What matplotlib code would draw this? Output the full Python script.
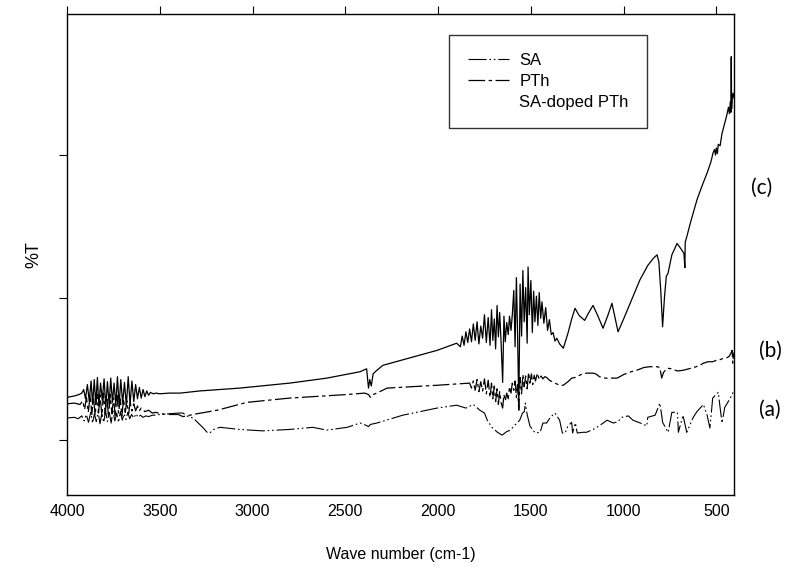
import matplotlib
matplotlib.use("Agg")
import matplotlib.pyplot as plt
from matplotlib.lines import Line2D

plt.rcParams['font.family'] = ['Liberation Sans', 'DejaVu Sans']
plt.rcParams['lines.scale_dashes'] = False

# SA-doped PTh (c), wavenumber (cm-1) and %T
doped_wn = [4000, 3960, 3935, 3920, 3910, 3900, 3890, 3880, 3870, 3862, 3853, 3845, 3836, 3828,
            3819, 3810, 3800, 3791, 3782, 3773, 3764, 3755, 3746, 3737, 3728, 3719, 3710, 3700,
            3690, 3680, 3670, 3660, 3650, 3640, 3630, 3620, 3610, 3600, 3590, 3580, 3570, 3560,
            3550, 3535, 3520, 3500, 3450, 3390, 3285, 3070, 2800, 2600, 2420, 2395, 2385, 2375,
            2368, 2360, 2350, 2330, 2297, 2200, 2005, 1900, 1880, 1870, 1860, 1850, 1840, 1830,
            1820, 1810, 1800, 1790, 1780, 1770, 1760, 1750, 1740, 1730, 1720, 1712, 1705, 1697,
            1690, 1682, 1675, 1668, 1660, 1652, 1645, 1638, 1630, 1622, 1615, 1607, 1600, 1592,
            1585, 1578, 1572, 1565, 1558, 1550, 1543, 1536, 1528, 1520, 1515, 1508, 1500, 1492,
            1485, 1478, 1470, 1462, 1455, 1447, 1440, 1430, 1420, 1410, 1400, 1390, 1380, 1370,
            1360, 1345, 1325, 1300, 1280, 1262, 1240, 1210, 1190, 1165, 1140, 1111, 1085, 1063,
            1045, 1030, 1000, 960, 912, 870, 840, 820, 810, 800, 790, 780, 770, 761, 740, 712,
            690, 675, 670, 668, 660, 640, 605, 580, 550, 530, 518, 510, 505, 500, 495, 490, 480,
            470, 455, 445, 435, 430, 425, 422, 420, 418, 415, 410, 405]
doped_t = [26.0, 26.2, 26.4, 26.6, 27.1, 25.8, 27.8, 25.5, 28.3, 25.0, 28.5, 25.0, 28.8, 24.8,
           28.0, 25.6, 28.6, 24.7, 28.2, 25.0, 28.7, 25.3, 28.0, 24.9, 28.9, 24.8, 28.5, 25.2,
           28.1, 24.8, 28.9, 25.0, 28.3, 25.4, 27.8, 25.8, 27.4, 25.9, 27.1, 26.1, 26.9, 26.3,
           26.7, 26.5, 26.6, 26.5, 26.6, 26.6, 26.9, 27.3, 28.0, 28.7, 29.6, 29.9, 30.0, 27.3,
           28.5, 27.6, 29.3, 29.8, 30.5, 31.2, 32.6, 33.6, 33.1, 34.6, 33.3, 35.2, 33.7, 35.6,
           33.8, 36.3, 34.0, 36.6, 33.5, 36.0, 34.3, 37.6, 33.7, 37.2, 33.3, 38.3, 34.0, 37.0,
           32.8, 38.9, 34.5, 37.9, 33.5, 28.1, 37.4, 33.8, 36.5, 34.8, 37.4, 35.4, 37.6, 41.0,
           33.1, 42.8, 35.6, 24.6, 41.9, 34.6, 43.8, 36.6, 41.4, 33.6, 44.3, 37.6, 42.4, 35.1,
           40.9, 36.6, 40.2, 36.1, 40.7, 37.1, 39.4, 36.4, 38.6, 35.4, 36.9, 34.8, 35.1, 33.9,
           34.3, 33.5, 32.9, 35.0, 37.0, 38.5, 37.5, 36.8, 37.8, 38.9, 37.5, 35.7, 37.5, 39.2,
           37.0, 35.2, 37.0, 39.5, 42.5, 44.5, 45.5, 46.0, 45.0, 41.0, 35.9, 40.0, 43.0, 43.4,
           46.0, 47.6, 46.8, 46.2, 44.2, 47.8, 48.5, 50.5, 53.7, 55.5, 57.5, 59.0, 60.3, 60.8,
           60.0, 61.0, 60.2, 61.5, 61.3, 63.0, 64.5, 65.5, 66.7, 65.8, 67.5, 66.0, 73.8, 66.5,
           68.1, 68.7, 68.0]

# PTh (b)
pth_wn = [4000, 3960, 3930, 3915, 3905, 3895, 3885, 3875, 3866, 3857, 3848, 3839, 3830, 3821,
          3812, 3803, 3794, 3785, 3776, 3767, 3758, 3749, 3740, 3731, 3722, 3713, 3704, 3695,
          3686, 3677, 3668, 3659, 3650, 3640, 3630, 3620, 3610, 3600, 3580, 3560, 3540, 3520,
          3500, 3450, 3400, 3375, 3300, 3190, 3030, 2800, 2490, 2395, 2375, 2365, 2350, 2330,
          2275, 2005, 1830, 1820, 1810, 1800, 1790, 1780, 1770, 1760, 1750, 1740, 1730, 1720,
          1712, 1705, 1697, 1690, 1682, 1675, 1668, 1660, 1652, 1645, 1638, 1630, 1622, 1615,
          1607, 1600, 1592, 1585, 1578, 1572, 1565, 1558, 1550, 1543, 1536, 1528, 1520, 1512,
          1505, 1497, 1490, 1482, 1475, 1465, 1455, 1445, 1435, 1425, 1415, 1400, 1370, 1345,
          1325, 1300, 1280, 1260, 1230, 1200, 1165, 1150, 1130, 1100, 1060, 1035, 1000, 960,
          930, 890, 860, 820, 805, 795, 785, 765, 740, 710, 680, 650, 620, 590, 570, 545, 520,
          500, 490, 470, 455, 440, 430, 420, 415, 412, 408, 405]
pth_t = [25.1, 25.2, 25.0, 25.5, 24.3, 26.0, 23.9, 26.3, 23.6, 26.0, 23.5, 26.5, 23.8, 26.3,
         23.3, 26.6, 23.6, 26.1, 23.2, 26.4, 23.7, 25.9, 23.5, 26.3, 23.8, 25.8, 23.4, 25.8,
         23.9, 25.5, 23.7, 25.3, 24.1, 25.1, 24.1, 24.8, 24.1, 24.5, 24.0, 24.2, 23.8, 23.9,
         23.7, 23.6, 23.6, 23.3, 23.7, 24.2, 25.3, 25.9, 26.4, 26.6, 26.4, 26.0, 26.4, 26.6,
         27.3, 27.7, 28.0, 27.3, 28.3, 27.0, 28.5, 26.8, 28.2, 26.9, 28.6, 26.5, 28.4, 26.0,
         28.0, 25.8, 27.6, 25.4, 27.2, 25.0, 26.8, 25.2, 24.5, 26.4, 25.5, 26.6, 25.8, 27.5,
         26.6, 28.0, 27.0, 28.3, 26.0, 27.8, 24.2, 28.8, 26.5, 29.2, 27.5, 29.0, 27.2, 29.5,
         28.0, 29.3, 27.8, 29.1, 28.3, 29.4, 28.5, 29.0, 28.6, 28.9, 28.8, 28.4, 28.0, 27.7,
         27.7, 28.2, 28.7, 28.8, 29.2, 29.4, 29.4, 29.3, 28.9, 28.7, 28.7, 28.7, 29.2, 29.6,
         29.8, 30.2, 30.3, 30.3, 30.2, 28.7, 29.5, 30.1, 30.0, 29.7, 29.8, 30.0, 30.2, 30.5,
         30.8, 31.0, 31.0, 31.2, 31.2, 31.4, 31.5, 31.6, 31.8, 32.3, 32.6, 30.8, 32.0, 32.3]

# SA (a)
sa_wn = [4000, 3960, 3940, 3920, 3908, 3896, 3884, 3872, 3862, 3852, 3842, 3832, 3822, 3812,
         3802, 3792, 3782, 3772, 3762, 3752, 3742, 3732, 3722, 3712, 3702, 3692, 3682, 3672,
         3662, 3652, 3640, 3628, 3616, 3604, 3590, 3575, 3560, 3540, 3520, 3500, 3450, 3400,
         3375, 3355, 3320, 3285, 3265, 3245, 3230, 3210, 3175, 3070, 2945, 2800, 2675, 2600,
         2490, 2420, 2390, 2375, 2365, 2330, 2190, 2005, 1900, 1850, 1810, 1775, 1750, 1735,
         1710, 1680, 1655, 1630, 1610, 1590, 1575, 1560, 1545, 1535, 1530, 1520, 1505, 1490,
         1475, 1450, 1435, 1415, 1395, 1370, 1355, 1345, 1330, 1315, 1300, 1280, 1275, 1260,
         1250, 1220, 1200, 1165, 1145, 1110, 1090, 1055, 1030, 1010, 975, 950, 910, 875, 870,
         830, 805, 795, 790, 760, 740, 710, 705, 680, 660, 625, 605, 570, 550, 535, 520, 490,
         470, 455, 425, 410, 405]
sa_t = [23.1, 23.2, 23.0, 23.4, 22.7, 23.6, 22.5, 23.9, 22.4, 23.7, 22.6, 24.0, 22.3, 23.8,
        22.5, 24.1, 22.6, 23.9, 22.4, 24.2, 22.7, 23.8, 22.5, 24.0, 22.8, 23.7, 22.9, 23.9,
        23.0, 23.6, 23.1, 23.7, 23.2, 23.5, 23.2, 23.4, 23.3, 23.5, 23.5, 23.6, 23.7, 23.8,
        23.8, 23.4, 23.1, 22.2, 21.7, 21.1, 21.0, 21.5, 21.8, 21.5, 21.3, 21.5, 21.8, 21.4,
        21.8, 22.4, 22.1, 21.9, 22.2, 22.4, 23.5, 24.5, 24.9, 24.5, 25.0, 24.2, 23.8, 22.8,
        21.8, 21.1, 20.7, 21.2, 21.4, 22.0, 22.4, 22.8, 23.8, 24.0, 25.2, 23.6, 22.0, 21.4,
        21.0, 21.1, 22.4, 22.4, 23.2, 23.8, 23.2, 22.8, 21.0, 21.0, 22.0, 22.5, 21.0, 22.4,
        21.0, 21.1, 21.1, 21.5, 21.8, 22.4, 22.8, 22.4, 22.6, 23.2, 23.4, 22.8, 22.4, 22.0, 23.2,
        23.5, 25.2, 23.5, 22.5, 21.1, 23.9, 23.9, 21.1, 23.5, 21.1, 23.2, 24.0, 25.0, 23.5,
        21.7, 25.9, 26.7, 22.4, 24.6, 25.9, 26.7, 26.5]

xticks = [4000, 3500, 3000, 2500, 2000, 1500, 1000, 500]
yticks = [20, 40, 60]
legend_labels = ['SA', 'PTh', 'SA-doped PTh']
curve_tags = ['(c)', '(b)', '(a)']

fig = plt.figure(figsize=(7.87, 5.81), dpi=100)
ax = fig.add_axes([0.0851, 0.148, 0.8476, 0.828])

sa_dash = (0, (13, 2, 1.2, 2, 1.2, 2))
pth_dash = (0, (12, 2.5, 2.5, 2.5))

ax.plot(sa_wn, sa_t, color='black', lw=0.8, linestyle=sa_dash)
ax.plot(pth_wn, pth_t, color='black', lw=0.9, linestyle=pth_dash)
ax.plot(doped_wn, doped_t, color='black', lw=0.9)

ax.set_xlim(4000, 405)
ax.set_ylim(12.3, 79.8)
ax.set_xticks(xticks)
ax.set_xticklabels([str(v) for v in xticks], fontsize=11.5)
ax.set_yticks(yticks)
ax.set_yticklabels([])
ax.tick_params(axis='x', which='both', bottom=False, top=True, direction='out', length=6, width=0.8)
ax.tick_params(axis='y', which='both', left=True, right=False, direction='out', length=6, width=0.8)
ax.tick_params(axis='x', pad=0.5)

for s in ax.spines.values():
    s.set_linewidth(1.0)

ax.set_xlabel('Wave number (cm-1)', fontsize=11.5, labelpad=20)
ax.set_ylabel('%T', fontsize=13, labelpad=8)

handles = [Line2D([], [], color='black', lw=0.8, linestyle=sa_dash),
           Line2D([], [], color='black', lw=0.9, linestyle=pth_dash),
           Line2D([], [], linestyle='none')]
leg = ax.legend(handles, legend_labels, loc='upper left', bbox_to_anchor=(0.573, 0.957),
                fontsize=12, frameon=True, fancybox=False, edgecolor='black',
                handlelength=2.5, handletextpad=0.6, borderpad=1.1, labelspacing=0.35,
                borderaxespad=0)
leg.get_frame().set_linewidth(1.0)

tag_pos = [(762, 188), (770, 351), (770, 410)]
for tag, (px, py) in zip(curve_tags, tag_pos):
    fig.text(px / 787, 1 - py / 581, tag, fontsize=15, family=['Lato', 'DejaVu Sans'],
             ha='center', va='center')

fig.savefig('out.png', dpi=100)
